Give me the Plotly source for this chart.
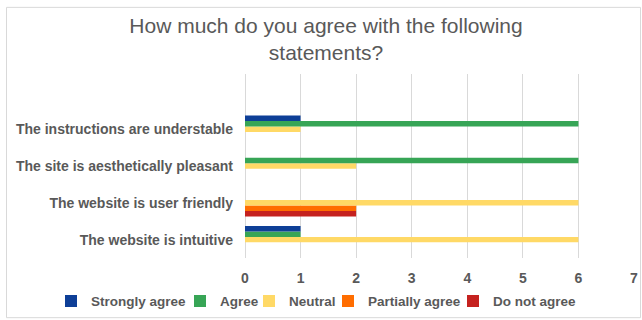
import plotly.graph_objects as go

# Statements, listed bottom to top as they appear on the axis
statements = [
    "The website is intuitive",
    "The website is user friendly",
    "The site is aesthetically pleasant",
    "The instructions are understable",
]

# Number of answers per level of agreement
strongly_agree = [1, 0, 0, 1]
agree = [1, 0, 6, 6]
neutral = [6, 6, 2, 1]
partially_agree = [0, 2, 0, 0]
do_not_agree = [0, 2, 0, 0]

series = [
    ("Strongly agree", strongly_agree, "#0E3F97"),
    ("Agree", agree, "#37A556"),
    ("Neutral", neutral, "#FFD966"),
    ("Partially agree", partially_agree, "#FF6D00"),
    ("Do not agree", do_not_agree, "#C5221F"),
]

x_ticks = [0, 1, 2, 3, 4, 5, 6, 7]

FONT = "Liberation Sans, Arial, sans-serif"
GREY = "#595959"
GRID = "#D9D9D9"

L, R, T, B = 245, 8, 73.5, 61.5
W, H = 642, 320
pw, ph = W - L - R, H - T - B

def px_to_paper_x(px):
    return (px - L) / pw

def px_to_paper_y(py):
    return (H - B - py) / ph

# One single-entry legend per series, laid out in a row under the axis;
# each value is where that entry's label starts, in pixels.
legend_text_x = [91, 220, 289, 368, 493]
legend_ids = ["legend", "legend2", "legend3", "legend4", "legend5"]

fig = go.Figure()
# Horizontal grouped bars stack their first trace at the bottom of each group,
# so add them in reverse to get "Strongly agree" on top.
for i in reversed(range(len(series))):
    name, values, color = series[i]
    fig.add_trace(go.Bar(
        name=name,
        y=statements,
        x=values,
        orientation="h",
        marker=dict(color=color, line=dict(width=0)),
        legend=legend_ids[i],
        showlegend=True,
    ))

legend_style = dict(
    orientation="h",
    xref="paper",
    yref="paper",
    xanchor="left",
    y=px_to_paper_y(302),
    yanchor="middle",
    itemwidth=30,
    font=dict(family=FONT, size=13.5, color=GREY, weight="bold"),
    bgcolor="rgba(0,0,0,0)",
)
legends = {
    lid: dict(legend_style, x=px_to_paper_x(tx - 40))
    for lid, tx in zip(legend_ids, legend_text_x)
}

fig.update_layout(
    width=W,
    height=H,
    showlegend=True,
    margin=dict(l=L, r=R, t=T, b=B, pad=0, autoexpand=False),
    paper_bgcolor="white",
    plot_bgcolor="white",
    barmode="group",
    bargap=0.26,
    bargroupgap=0,
    font=dict(family=FONT, color=GREY),
    title=dict(
        text="How much do you agree with the following<br>statements?",
        font=dict(family=FONT, size=21, color=GREY),
        x=326 / W,
        xref="container",
        xanchor="center",
        y=1 - 33 / H,
        yref="container",
        yanchor="top",
    ),
    xaxis=dict(
        range=[0, 7],
        tickvals=x_ticks,
        ticktext=[str(v) for v in x_ticks],
        showgrid=True,
        gridcolor=GRID,
        gridwidth=1,
        zeroline=True,
        zerolinecolor=GRID,
        zerolinewidth=1,
        showline=False,
        ticks="",
        ticklabelstandoff=10,
        tickfont=dict(family=FONT, size=14, color=GREY, weight="bold"),
        fixedrange=True,
    ),
    yaxis=dict(
        type="category",
        range=[-0.5, 4.5],
        showgrid=False,
        showline=False,
        ticks="",
        ticklabelstandoff=11,
        tickfont=dict(family=FONT, size=14, color=GREY, weight="bold"),
        fixedrange=True,
    ),
    shapes=[
        dict(
            type="rect",
            xref="paper",
            yref="paper",
            x0=px_to_paper_x(6.5),
            x1=px_to_paper_x(640.5),
            y0=px_to_paper_y(318.5),
            y1=px_to_paper_y(6.5),
            line=dict(color=GRID, width=1),
            fillcolor="rgba(0,0,0,0)",
            layer="below",
        )
    ],
    **legends,
)

fig.write_html("out.html")
